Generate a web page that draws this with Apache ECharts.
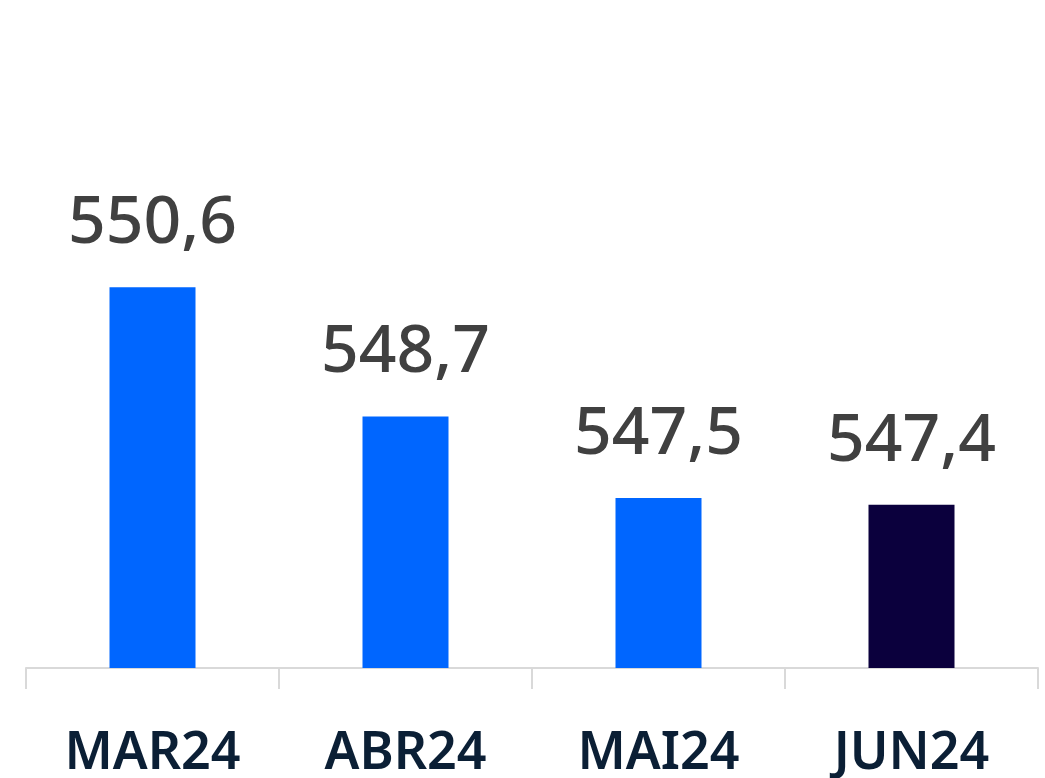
<!DOCTYPE html>
<html>
<head>
<meta charset="utf-8">
<script src="https://cdn.jsdelivr.net/npm/echarts@6/dist/echarts.min.js"></script>
<style>
  html, body { margin: 0; padding: 0; background: #ffffff; }
  #chart { width: 1045px; height: 778px; }
</style>
</head>
<body>
<div id="chart"></div>
<script>
// Monthly values (MAR24 – JUN24)
const categories = ['MAR24', 'ABR24', 'MAI24', 'JUN24'];
const values = [550.6, 548.7, 547.5, 547.4];
const barColors = ['#0066ff', '#0066ff', '#0066ff', '#0b003d'];

const fmt = v => v.toFixed(1).replace('.', ',');

const chart = echarts.init(document.getElementById('chart'), null, { renderer: 'canvas' });

chart.setOption({
  animation: false,
  backgroundColor: '#ffffff',
  grid: { left: 26, right: 7, top: 56, bottom: 110, containLabel: false, outerBoundsMode: 'none' },
  xAxis: {
    type: 'category',
    data: categories,
    axisLine: { show: true, lineStyle: { color: '#d9d9d9', width: 2 } },
    axisTick: { show: true, length: 21, lineStyle: { color: '#d9d9d9', width: 2 } },
    axisLabel: {
      color: '#0b1f35',
      fontFamily: 'Noto Sans',
      fontWeight: 600,
      fontSize: 52,
      margin: 60
    }
  },
  yAxis: {
    type: 'value',
    min: 545,
    max: 554,
    show: false,
    splitLine: { show: false }
  },
  series: [{
    type: 'bar',
    barWidth: 86,
    data: values.map((v, i) => ({ value: v, itemStyle: { color: barColors[i] } })),
    label: {
      show: true,
      position: 'top',
      distance: 30,
      color: '#404040',
      fontFamily: 'Noto Sans',
      fontWeight: 500,
      fontSize: 66,
      formatter: p => fmt(p.value)
    }
  }]
});
</script>
</body>
</html>
